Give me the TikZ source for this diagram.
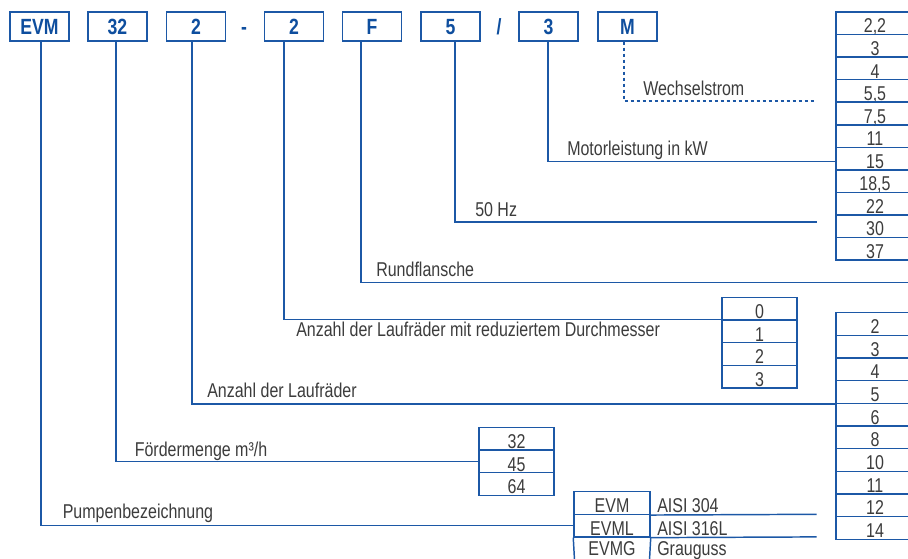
\documentclass[tikz,border=0pt]{standalone}
\usepackage{fontspec}
\setmainfont{Liberation Sans}[FakeStretch=0.8]
\usetikzlibrary{calc}
\definecolor{lblue}{RGB}{28,88,166}
\definecolor{tblue}{RGB}{14,78,158}
\definecolor{tgray}{RGB}{60,60,60}
\begin{document}
\begin{tikzpicture}[x=0.75pt,y=-0.75pt,
  conn/.style={draw=lblue,line width=1.1pt},
  dconn/.style={draw=lblue,line width=1.1pt,dash pattern=on 2.5pt off 2pt},
  codebox/.style={draw=lblue,line width=1.1pt,minimum width=44.25pt,minimum height=21.75pt,inner sep=0pt,text=tblue,font=\fontsize{16.5}{16.5}\selectfont\bfseries,text height=11.6pt,text depth=0pt},
  sep/.style={anchor=base,inner sep=0pt,text=tblue,font=\fontsize{16.5}{16.5}\selectfont\bfseries},
  cell/.style={draw=lblue,line width=1.1pt,minimum height=16.95pt,inner sep=0pt,text=tgray,font=\fontsize{15}{15}\selectfont,text height=15.7pt,text depth=1.25pt},
  lbl/.style={anchor=base west,inner sep=0pt,text=tgray,font=\fontsize{15}{15}\selectfont}]
\clip (0,0) rectangle (908,558);
% code boxes
\node[codebox] (b1) at (39.5,26.5) {EVM};
\node[codebox] (b2) at (117.5,26.5) {32};
\node[codebox] (b3) at (196,26.5) {2};
\node[sep] (s1) at (244,34.2) {-};
\node[codebox] (b4) at (294,26.5) {2};
\node[codebox] (b5) at (372,26.5) {F};
\node[codebox] (b6) at (450.5,26.5) {5};
\node[sep] (s2) at (499,34.2) {/};
\node[codebox] (b7) at (548.5,26.5) {3};
\node[codebox] (b8) at (627.5,26.5) {M};
% motor power table
\foreach \v [count=\i] in {{2,2},3,4,{5,5},{7,5},11,15,{18,5},22,30,37}
  \node[cell,minimum width=58.5pt] (pw\i) at (875,{12+22.55*(\i-0.5)}) {\v};
% number of impellers table
\foreach \v [count=\i] in {2,3,4,5,6,8,10,11,12,14}
  \node[cell,minimum width=58.5pt] (lr\i) at (875,{312.7+22.66*(\i-0.5)}) {\v};
% reduced impellers table
\foreach \v [count=\i] in {0,1,2,3}
  \node[cell,minimum width=56.25pt] (rd\i) at (759.5,{297.5+22.6*(\i-0.5)}) {\v};
% flow table
\foreach \v [count=\i] in {32,45,64}
  \node[cell,minimum width=56.25pt] (fm\i) at (516.5,{427.5+22.6*(\i-0.5)}) {\v};
% material table
\node[cell,minimum width=57pt] (ma1) at (612,{491.7+22.6*0.5}) {EVM};
\node[cell,minimum width=57pt] (ma2) at (612,{491.7+22.6*1.5}) {EVML};
\node[lbl,anchor=base] (ma3) at (612,555.6) {EVMG};
\coordinate (mb1) at (574.5,560);
\coordinate (mb2) at (649.5,560);
\draw[conn] (ma2.south west) -- (mb1);
\draw[conn] (ma2.south east) -- (mb2);
\node[lbl] (mt1) at (657,512.6) {AISI 304};
\node[lbl] (mt2) at (657,535.2) {AISI 316L};
\node[lbl] (mt3) at (657,555.6) {Grauguss};
\coordinate (me1) at (816.7,514.3);
\coordinate (me2) at (816.7,536.9);
\draw[conn] (ma1.south east) -- (me1);
\draw[conn] (ma2.south east) -- (me2);
% free ends
\coordinate (ws) at (816.7,101);
\coordinate (hz) at (816.7,222);
\coordinate (rf) at (912,282.3);
% connectors
\draw[dconn] ($(b8.south)+(-3.5,0)$) |- (ws);
\draw[conn] ($(b7.south)+(-0.5,0)$) |- ($(pw7.west)+(0,3)$);
\draw[conn] ($(b6.south)+(4.5,0)$) |- (hz);
\draw[conn] ($(b5.south)+(-11,0)$) |- (rf);
\draw[conn] ($(b4.south)+(-10,0)$) |- (rd2.north west);
\draw[conn] ($(b3.south)+(-4,0)$) |- (lr4.south west);
\draw[conn] ($(b2.south)+(-1.5,0)$) |- (fm2.west);
\draw[conn] ($(b1.south)+(1.5,0)$) |- (ma2.west);
% labels
\node[lbl] (l1) at (643,95) {Wechselstrom};
\node[lbl] (l2) at (567,155.5) {Motorleistung in kW};
\node[lbl] (l3) at (475,216) {50 Hz};
\node[lbl] (l4) at (376,276.5) {Rundflansche};
\node[lbl] (l5) at (296,336) {Anzahl der Laufräder mit reduziertem Durchmesser};
\node[lbl] (l6) at (207,397.5) {Anzahl der Laufräder};
\node[lbl] (l7) at (134.5,456.5) {Fördermenge m³/h};
\node[lbl] (l8) at (62.5,518.5) {Pumpenbezeichnung};
\end{tikzpicture}
\end{document}
